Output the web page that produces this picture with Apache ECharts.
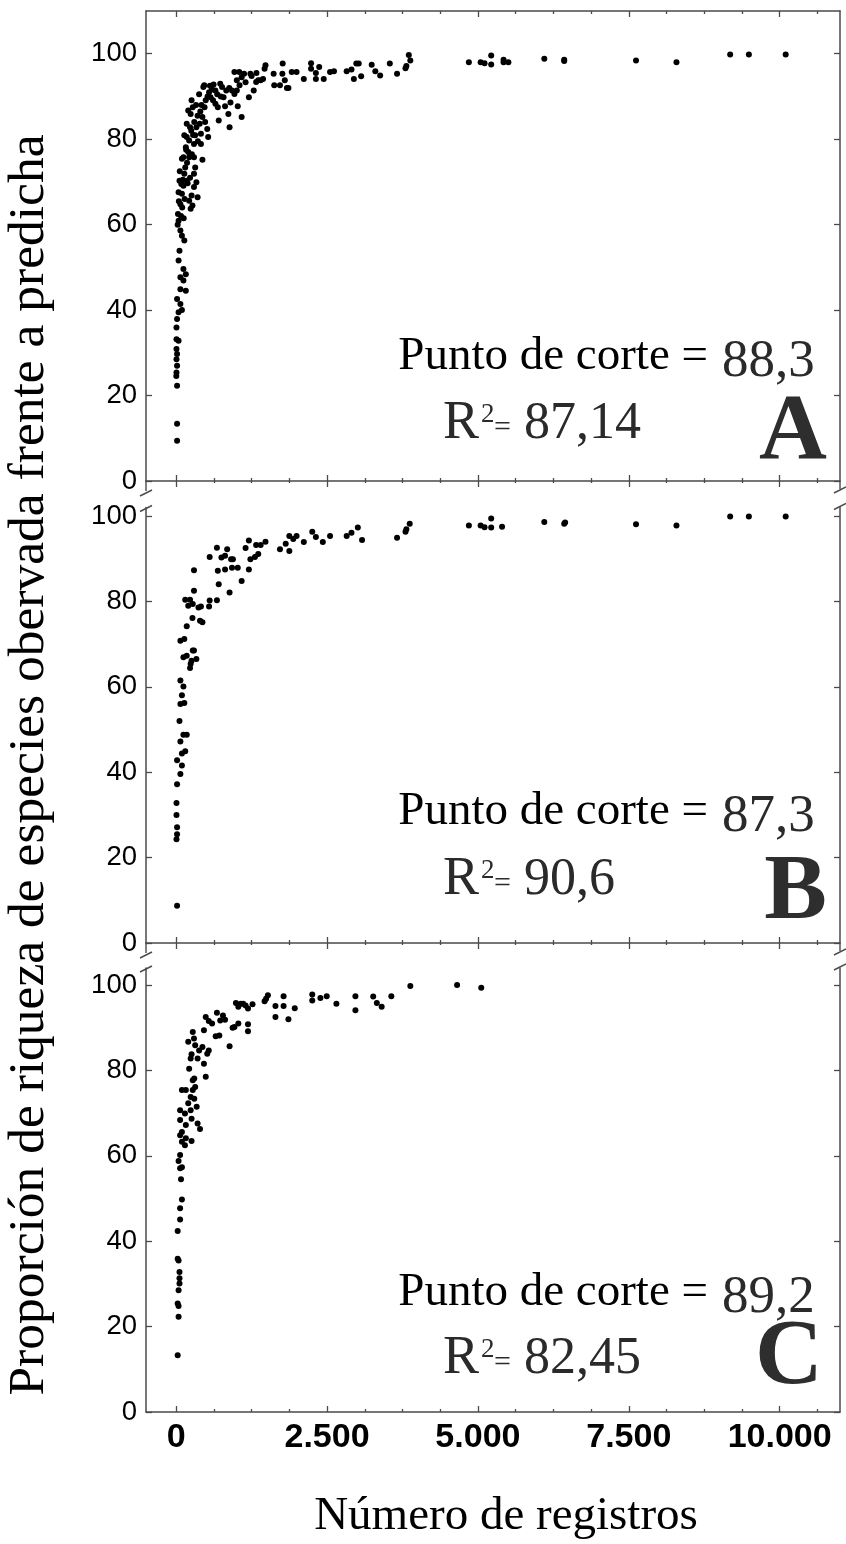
<!DOCTYPE html>
<html><head><meta charset="utf-8">
<script src="https://cdn.jsdelivr.net/npm/echarts@6/dist/echarts.min.js"></script>
<style>html,body{margin:0;padding:0;background:#fff}#c{width:846px;height:1544px}</style>
</head><body><div id="c"></div>
<script>
// ---------- DATA ----------
const xTicks = [0, 2500, 5000, 7500, 10000];
const xMinorTicks = [625, 1250, 1875, 3125, 3750, 4375, 5625, 6250, 6875, 8125, 8750, 9375, 10625];
const yTicks = [0, 20, 40, 60, 80, 100];
const xTitle = 'Número de registros';
const yTitle = 'Proporción de riqueza de especies obervada frente a predicha';
const panelLetters = ['A', 'B', 'C'];
const puntoCorte = ['88,3', '87,3', '89,2'];
const r2Values = ['87,14', '90,6', '82,45'];

// [número de registros, proporción %]
const panelA = [
 [4850,98.0],[5045,98.0],[5110,97.8],[5220,99.6],[5220,97.5],[5425,98.6],[5425,98.0],[5505,98.0],[6100,98.8],[6430,98.6],[6430,98.3],[7620,98.4],[8290,98.0],[9180,99.8],[9490,99.8],[10100,99.8],
 [3855,99.7],[3880,98.4],[3815,97.1],[3800,96.6],[3660,95.3],[3540,97.7],[3380,94.9],[3300,95.9],[3240,97.4],[3065,94.7],[3025,97.7],[2985,97.7],[2945,94.1],[2905,96.3],[2825,95.9],[2615,95.9],[2550,95.7],[2445,94.1],[2370,96.9],[2315,95.5],[2315,94.1],[2235,97.8],[2235,96.5],[2115,94.1],[1995,95.7],[1915,95.7],[1860,92.0],[1835,92.0],[1800,93.8],[1765,97.7],[1760,95.3],[1720,92.6],[1625,92.6],[1615,95.3],[1480,97.3],[1465,96.5],[1440,94.1],[1400,93.8],[1360,93.8],[1325,93.4],[1285,91.4],[1230,95.3],[1205,89.8],[1125,95.3],[1085,94.5],[1045,95.7],[1005,93.8],[965,95.7],[965,90.6],[1085,85.2],[1020,87.7],[1005,91.4],[925,91.4],[885,82.8],[865,85.9],[830,91.4],[810,87.7],[785,89.8],[730,93.0],[705,84.4],[690,87.5],[650,91.4],[650,88.3],[610,89.1],[595,91.6],[570,89.8],[545,91.0],[530,80.5],[515,82.4],[490,89.1],[465,92.6],[450,92.2],[435,85.2],[410,81.3],[410,78.9],[435,75.2],[390,83.6],[355,85.5],[335,82.8],[315,80.9],[295,78.9],[295,75.8],[275,87.5],[255,89.1],[240,85.9],[230,82.8],[215,79.7],[200,86.7],[175,80.5],[175,83.6],[160,78.1],[135,80.9],[120,75.8],[295,71.9],[315,73.4],[335,69.9],[355,66.4],[295,68.8],[255,66.8],[240,63.7],[215,65.6],[175,70.3],[135,71.9],[120,69.1],[95,67.2],[70,64.8],[55,70.3],[40,67.6],[30,62.5],[40,60.9],[70,58.6],[135,56.3],[95,57.4],[55,53.9],[215,75.8],[95,75.4],[150,73.4],
 [60,72.5],[80,62.0],[100,64.0],[110,70.5],[140,66.0],[180,74.5],[200,77.0],[260,76.5],[280,81.0],[330,88.0],[380,90.5],[420,88.0],[470,87.5],[520,90.0],[560,92.5],[620,92.8],[680,90.5],[740,90.0],[760,92.2],[880,92.0],[900,88.6],[1050,92.6],[1150,93.3],[1250,94.8],[1330,95.5],[45,65.5],[85,69.5],[25,60.0],[125,61.5],[190,69.7],[230,71.0],[270,64.5],[165,77.5],[250,82.0],[300,84.0],[360,79.5],[400,86.5],[480,84.0],
 [40,51.6],[120,49.6],[160,48.4],[70,47.7],[120,46.9],[70,44.9],[160,44.5],[15,42.6],[70,41.4],[95,40.0],[40,39.5],[15,37.9],[5,35.9],[5,33.2],[40,32.8],[5,30.9],[15,29.7],[5,28.5],[15,27.0],[5,25.4],[2,24.6],[15,22.3],[15,13.4],[15,9.4]
];
const panelB = [
 [4850,97.8],[5045,97.8],[5110,97.4],[5220,99.4],[5220,97.3],[5400,97.5],[6100,98.6],[6430,98.2],[6445,98.5],[7620,98.1],[8290,97.8],[9180,99.9],[9490,99.9],[10100,99.9],
 [3870,98.2],[3815,96.9],[3800,96.3],[3660,94.9],[3080,94.4],[3010,97.3],[2905,96.1],[2825,95.3],[2550,95.3],[2430,93.9],[2315,95.1],[2255,96.3],[2115,93.9],[1995,95.3],[1940,94.6],[1875,95.3],[1875,91.8],[1815,93.5],[1720,92.2],[1480,94.0],[1400,93.2],[1325,93.2],[1360,91.1],[1305,90.4],[1230,89.9],[1205,94.3],[1150,92.5],[1205,87.5],[1085,84.8],[1020,87.9],[940,89.9],[925,87.9],[910,89.9],[845,92.2],[810,87.5],[810,90.7],[750,90.3],[690,87.2],[705,84.0],[675,92.6],[885,82.1],[555,90.4],[675,80.3],[555,80.2],[545,78.8],[410,78.8],[370,78.6],[435,75.1],[395,75.5],[295,87.3],[295,82.5],[275,79.4],[270,76.1],[230,80.4],[200,79.0],[150,80.4],[175,74.2],[135,71.2],[70,70.8],[120,66.9],[175,67.3],[240,65.4],[255,66.1],[230,64.4],[275,68.5],[335,66.5],[295,68.5],[70,61.5],[120,60.1],[95,58.0],[70,56.0],[135,56.2],
 [55,52.0],[120,48.8],[175,48.8],[70,47.2],[150,44.9],[95,44.4],[15,42.8],[95,41.6],[70,39.6],[15,37.2],[5,32.8],[5,30.0],[15,27.1],[15,25.5],[5,24.3],[15,8.7]
];
const panelC = [
 [3880,99.8],[4655,100],[5055,99.4],
 [3565,97.4],[3405,94.9],[3325,95.8],[3265,97.3],[2970,97.4],[2970,94.1],[2655,95.6],[2495,97.4],[2390,97.0],[2255,97.8],[2255,96.4],[1965,94.6],[1860,92.0],[1780,97.4],[1780,95.1],[1645,92.5],[1645,95.1],[1520,97.6],[1490,96.8],[1465,96.2],[1265,95.5],[1190,94.5],[1150,95.2],[1110,95.6],[1190,90.8],[1190,89.2],[1070,95.6],[1030,94.9],[990,95.8],[1030,91.0],[965,90.2],[935,90.0],[885,85.7],[810,91.9],[775,92.9],[730,91.7],[715,88.2],[655,88.0],[675,93.5],[595,91.0],[540,91.6],[490,92.5],[460,89.4],[540,84.7],[515,83.9],[460,81.6],[490,78.5],[435,85.5],[380,84.7],[355,82.8],[315,85.9],[295,87.5],[275,89.0],[255,83.8],[240,82.8],[215,80.4],[200,86.7],[275,77.7],[300,78.1],[315,76.1],[275,75.4],[240,73.8],[300,73.4],[340,71.5],[355,67.6],[395,66.3],[255,68.7],[240,70.7],[200,72.3],[160,75.4],[145,69.9],[160,67.2],[95,75.4],[65,70.7],[65,68.4],[95,65.6],[65,64.8],[95,63.3],[160,64.1],[145,62.5],[255,63.5],[65,60.2],[40,58.8],[95,57.3],[65,57.1],[80,54.5],[95,49.8],[65,47.7],
 [65,45.1],[25,42.4],[25,35.9],[40,35.5],[55,32.8],[55,31.3],[55,30.1],[40,28.5],[25,25.4],[40,24.8],[40,22.3],[25,13.3]
];
const panelData = [panelA, panelB, panelC];

// ---------- LAYOUT ----------
const GL = 146, GW = 694, XMIN = -500, XMAX = 11000;
const layout = [
  {top: 11,    height: 470,   ymax: 110, topLine: true,  labels: false, cross: true,  punto: -109, num: -101, r: -39, letter: -16, letterX: 827},
  {top: 507.5, height: 435.5, ymax: 102, topLine: false, labels: false, cross: true,  punto: -116, num: -108, r: -45, letter: -18, letterX: 827},
  {top: 968,   height: 444,   ymax: 104, topLine: false, labels: true,  cross: false, punto: -104, num: -96,  r: -35, letter: -22, letterX: 823}
];
const AX = '#4a4a4a';
const SERIF = '"Liberation Serif", "Times New Roman", serif';
const SANS = '"Liberation Sans", Arial, sans-serif';
const fmt = v => String(v).replace(/\B(?=(\d{3})+(?!\d))/g, '.');

const grid = [], xAxis = [], yAxis = [], series = [], graphic = [];
function addGrid(L) { grid.push({left: GL, width: GW, top: L.top, height: L.height}); return grid.length - 1; }
function hiddenY(g, L) { yAxis.push({gridIndex: g, type: 'value', min: 0, max: L.ymax, show: false}); }
function tickAxis(g, pos, vals, len, inside, line) {
  xAxis.push({gridIndex: g, type: 'value', position: pos, min: XMIN, max: XMAX,
    axisLine: {show: !!line, onZero: false, lineStyle: {color: AX, width: 1.5}},
    axisTick: {show: true, inside: inside, length: len, customValues: vals, lineStyle: {color: AX, width: 1.3}},
    axisLabel: {show: false}, splitLine: {show: false}});
}

layout.forEach((L, i) => {
  const g = addGrid(L);
  const xi = xAxis.length;
  xAxis.push({gridIndex: g, type: 'value', position: 'bottom', min: XMIN, max: XMAX,
    axisLine: {show: true, onZero: false, lineStyle: {color: AX, width: 1.5}},
    axisTick: {show: true, inside: true, length: 6, customValues: xTicks, lineStyle: {color: AX, width: 1.3}},
    axisLabel: {show: L.labels, customValues: xTicks, formatter: fmt, fontFamily: SANS, fontWeight: 'bold', fontSize: 34, color: '#000', margin: 9},
    splitLine: {show: false}});
  if (L.topLine) tickAxis(g, 'top', xTicks, 6, true, true);
  const yi = yAxis.length;
  yAxis.push({gridIndex: g, type: 'value', position: 'left', min: 0, max: L.ymax,
    axisLine: {show: true, onZero: false, lineStyle: {color: AX, width: 1.5}},
    axisTick: {show: true, inside: true, length: 6, customValues: yTicks, lineStyle: {color: AX, width: 1.3}},
    axisLabel: {show: true, customValues: yTicks, fontFamily: SANS, fontSize: 27.5, color: '#000', margin: 9},
    splitLine: {show: false}});
  yAxis.push({gridIndex: g, type: 'value', position: 'right', min: 0, max: L.ymax,
    axisLine: {show: true, onZero: false, lineStyle: {color: AX, width: 1.5}},
    axisTick: {show: true, inside: true, length: 6, customValues: yTicks, lineStyle: {color: AX, width: 1.3}},
    axisLabel: {show: false}, splitLine: {show: false}});
  // minor ticks (inside)
  const g2 = addGrid(L); hiddenY(g2, L);
  tickAxis(g2, 'bottom', xMinorTicks, 3, true, false);
  if (L.topLine) tickAxis(g2, 'top', xMinorTicks, 3, true, false);
  if (L.cross) {
    const g3 = addGrid(L); hiddenY(g3, L);
    tickAxis(g3, 'bottom', xTicks, 6, false, false);
    const g4 = addGrid(L); hiddenY(g4, L);
    tickAxis(g4, 'bottom', xMinorTicks, 2, false, false);
  }
  series.push({type: 'scatter', xAxisIndex: xi, yAxisIndex: yi, data: panelData[i], symbol: 'circle', symbolSize: 6,
    itemStyle: {color: '#000', opacity: 1}, silent: true, animation: false});

  // annotations
  const bottom = L.top + L.height;
  const txt = (text, x, y, size, opts) => graphic.push(Object.assign({type: 'text', x: x, y: y, silent: true,
    style: Object.assign({text: text, font: size + 'px ' + SERIF, fill: '#000', textAlign: 'left', align: 'left', textVerticalAlign: 'middle', verticalAlign: 'middle'}, opts || {})}));
  const pb = bottom + L.punto, nb = bottom + L.num, rb = bottom + L.r, lb = bottom + L.letter;
  txt('Punto de corte =', 708, pb - 15.5, 47, {textAlign: 'right', align: 'right'});
  txt(puntoCorte[i], 722, nb - 17.5, 53, {fill: '#2a2a2a'});
  txt('R', 443, rb - 17.8, 54, {fill: '#2a2a2a'});
  txt('2', 481, rb - 27, 27, {fill: '#2a2a2a'});
  txt('=', 494, rb - 13.6, 30, {fill: '#2a2a2a'});
  txt(r2Values[i], 524, rb - 17.2, 52, {fill: '#2a2a2a'});
  txt(panelLetters[i], L.letterX, lb - 31, 94, {textAlign: 'right', align: 'right', font: 'bold 94px ' + SERIF, fill: '#2e2e2e'});

  // axis break marks
  const ln = (x1, y1, x2, y2) => graphic.push({type: 'line', silent: true, shape: {x1, y1, x2, y2}, style: {stroke: AX, lineWidth: 1.4}});
  const xl = GL, xr = GL + GW;
  if (i < 2) {
    ln(xl, bottom, xl, bottom + 10); ln(xl - 6, bottom + 15, xl + 6, bottom + 9);
    ln(xr, bottom, xr, bottom + 8); ln(xr - 6, bottom + 12, xr + 6, bottom + 6);
  }
  if (i > 0) {
    ln(xl - 6, L.top + 4, xl + 6, L.top - 2);
    ln(xr - 6, L.top + 2, xr + 6, L.top - 4);
  }
});

// axis titles
graphic.push({type: 'text', x: 506, y: 1517, silent: true,
  style: {text: xTitle, font: '47px ' + SERIF, fill: '#000', textAlign: 'center', align: 'center', textVerticalAlign: 'middle', verticalAlign: 'middle'}});
graphic.push({type: 'text', x: 29, y: 765, rotation: Math.PI / 2, silent: true,
  style: {text: yTitle, font: '51.5px ' + SERIF, fill: '#000', textAlign: 'center', align: 'center', textVerticalAlign: 'middle', verticalAlign: 'middle'}});

const chart = echarts.init(document.getElementById('c'), null, {renderer: 'canvas'});
chart.setOption({backgroundColor: '#fff', animation: false, grid, xAxis, yAxis, series, graphic});
</script></body></html>
